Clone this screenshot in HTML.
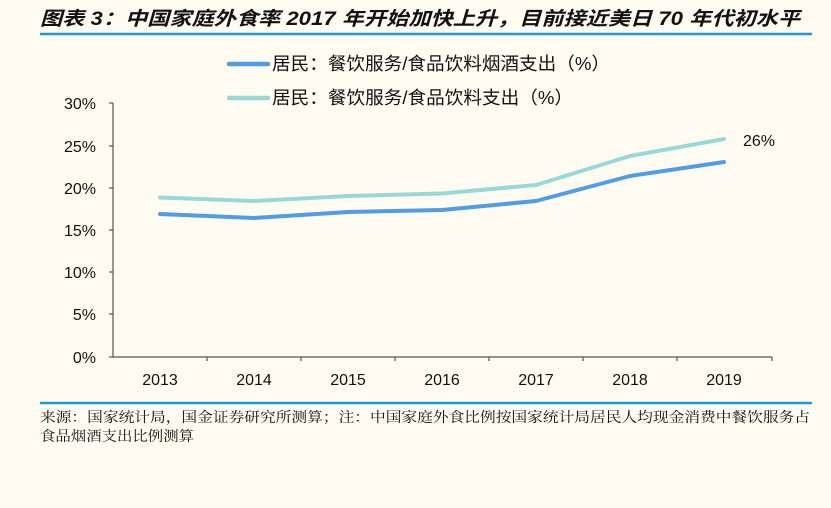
<!DOCTYPE html>
<html><head><meta charset="utf-8"><style>
body{margin:0;background:#fffbf1;}
svg{display:block;}
</style></head><body>
<svg width="831" height="508" xmlns="http://www.w3.org/2000/svg">
<rect width="831" height="508" fill="#fffbf1"/>
<text x="40" y="25" textLength="760" lengthAdjust="spacingAndGlyphs" font-family="Liberation Sans, Noto Sans CJK SC, sans-serif" font-size="19" font-weight="bold" font-style="italic" fill="#111">图表 3：中国家庭外食率 2017 年开始加快上升，目前接近美日 70 年代初水平</text>
<line x1="40" y1="34" x2="812" y2="34" stroke="#1a9ad6" stroke-width="2.5"/>
<line x1="40" y1="403" x2="812" y2="403" stroke="#1a9ad6" stroke-width="2.5"/>
<g font-family="Liberation Sans, Noto Sans CJK SC, sans-serif" font-size="18" fill="#111">
<line x1="229" y1="64" x2="268" y2="64" stroke="#4e9de6" stroke-width="4.5" stroke-linecap="round"/>
<text x="272" y="70" textLength="338" lengthAdjust="spacingAndGlyphs">居民：餐饮服务/食品饮料烟酒支出（%）</text>
<line x1="229" y1="98" x2="268" y2="98" stroke="#98d9d8" stroke-width="4.5" stroke-linecap="round"/>
<text x="272" y="104" textLength="301" lengthAdjust="spacingAndGlyphs">居民：餐饮服务/食品饮料支出（%）</text>
</g>
<g stroke="#555" stroke-width="1.2">
<line x1="113" y1="103" x2="113" y2="357"/>
<line x1="113" y1="357" x2="772" y2="357"/>
<line x1="109" y1="103" x2="113" y2="103"/><line x1="109" y1="146" x2="113" y2="146"/><line x1="109" y1="188" x2="113" y2="188"/><line x1="109" y1="230" x2="113" y2="230"/><line x1="109" y1="272" x2="113" y2="272"/><line x1="109" y1="314" x2="113" y2="314"/><line x1="109" y1="357" x2="113" y2="357"/>
<line x1="207" y1="357" x2="207" y2="361"/><line x1="301" y1="357" x2="301" y2="361"/><line x1="395" y1="357" x2="395" y2="361"/><line x1="489" y1="357" x2="489" y2="361"/><line x1="583" y1="357" x2="583" y2="361"/><line x1="677" y1="357" x2="677" y2="361"/><line x1="772" y1="357" x2="772" y2="361"/>
</g>
<g font-family="Liberation Sans, sans-serif" font-size="16" fill="#111" text-anchor="end">
<text x="96" y="109">30%</text><text x="96" y="152">25%</text><text x="96" y="194">20%</text><text x="96" y="236">15%</text><text x="96" y="278">10%</text><text x="96" y="320">5%</text><text x="96" y="363">0%</text>
</g>
<g font-family="Liberation Sans, sans-serif" font-size="16" fill="#111" text-anchor="middle">
<text x="160" y="385">2013</text><text x="254" y="385">2014</text><text x="348" y="385">2015</text><text x="442" y="385">2016</text><text x="536" y="385">2017</text><text x="630" y="385">2018</text><text x="724" y="385">2019</text>
</g>
<polyline points="160,214 254,218 348,212 442,210 536,201 630,176 724,162" fill="none" stroke="#4e9de6" stroke-width="4" stroke-linecap="round" stroke-linejoin="round"/>
<polyline points="160,197.5 254,201 348,196 442,193.5 536,185 630,156 724,139" fill="none" stroke="#98d9d8" stroke-width="4" stroke-linecap="round" stroke-linejoin="round"/>
<text x="743" y="146" font-family="Liberation Sans, sans-serif" font-size="16" fill="#111">26%</text>
<g font-family="Noto Serif CJK SC, serif" font-size="14" fill="#111">
<text x="40" y="422" textLength="770" lengthAdjust="spacingAndGlyphs">来源：国家统计局，国金证券研究所测算；注：中国家庭外食比例按国家统计局居民人均现金消费中餐饮服务占</text>
<text x="40" y="441" textLength="154" lengthAdjust="spacingAndGlyphs">食品烟酒支出比例测算</text>
</g>
</svg>
</body></html>
